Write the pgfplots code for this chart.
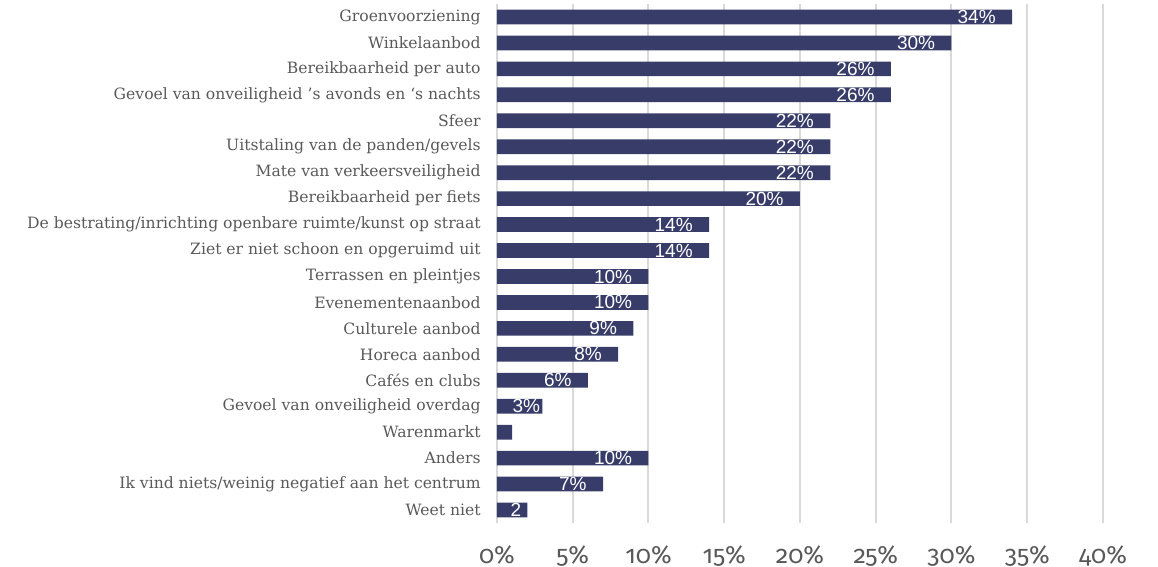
\documentclass[border=0pt]{standalone}
\usepackage{pgfplots}
\pgfplotsset{compat=1.18}
\usepackage{fontspec}
\setmainfont{DejaVu Serif}
\newfontfamily\tickfont[Numbers=OldStyle]{Fira Sans}
\newfontfamily\lblfont{Liberation Sans}
\definecolor{barblue}{HTML}{383C69}
\definecolor{txtgray}{HTML}{595959}
\definecolor{gridgray}{HTML}{D9D9D9}
\begin{document}
\begin{tikzpicture}
\useasboundingbox (0,0) rectangle (579pt,283.5pt);
\begin{axis}[
    at={(248.5pt,22pt)}, anchor=south west,
    xbar,
    scale only axis,
    width=303pt, height=259.5pt,
    xmin=0, xmax=40,
    ymin=-0.5, ymax=19.5,
    y dir=reverse,
    bar width=7.35pt,
    axis line style={draw=none},
    major tick length=0pt,
    xtick={0,5,...,40},
    /pgf/number format/assume math mode=true,
    xticklabel={\pgfmathprintnumber{\tick}\%},
    xmajorgrids,
    major grid style={gridgray, line width=1pt},
    xticklabel style={anchor=base, inner sep=0pt, yshift=-20pt, font=\tickfont\fontsize{12.5}{14}\selectfont, text=txtgray},
    ytick={0,...,19},
    yticklabels={Groenvoorziening, Winkelaanbod, Bereikbaarheid per auto,
        {Gevoel van onveiligheid ’s avonds en ‘s nachts}, Sfeer,
        Uitstaling van de panden/gevels, Mate van verkeersveiligheid,
        Bereikbaarheid per fiets,
        De bestrating/inrichting openbare ruimte/kunst op straat,
        Ziet er niet schoon en opgeruimd uit, Terrassen en pleintjes,
        Evenementenaanbod, Culturele aanbod, Horeca aanbod, Cafés en clubs,
        Gevoel van onveiligheid overdag, Warenmarkt, Anders,
        Ik vind niets/weinig negatief aan het centrum, Weet niet},
    yticklabel style={anchor=east, inner sep=0pt, xshift=-8pt, font=\fontsize{7.8}{10}\selectfont, text=txtgray},
    point meta=explicit symbolic,
    nodes near coords,
    every node near coord/.append style={anchor=east, inner sep=0pt, xshift=-8pt, text=white, font=\lblfont\fontsize{9.5}{11}\selectfont},
]
\addplot[fill=barblue, draw=none] coordinates {
    (34,0) [34\%]
    (30,1) [30\%]
    (26,2) [26\%]
    (26,3) [26\%]
    (22,4) [22\%]
    (22,5) [22\%]
    (22,6) [22\%]
    (20,7) [20\%]
    (14,8) [14\%]
    (14,9) [14\%]
    (10,10) [10\%]
    (10,11) [10\%]
    (9,12) [9\%]
    (8,13) [8\%]
    (6,14) [6\%]
    (3,15) [3\%\kern-7pt]
    (1,16) [{}]
    (10,17) [10\%]
    (7,18) [7\%]
    (2,19) [2\kern-6pt]
};
\end{axis}
\end{tikzpicture}
\end{document}
